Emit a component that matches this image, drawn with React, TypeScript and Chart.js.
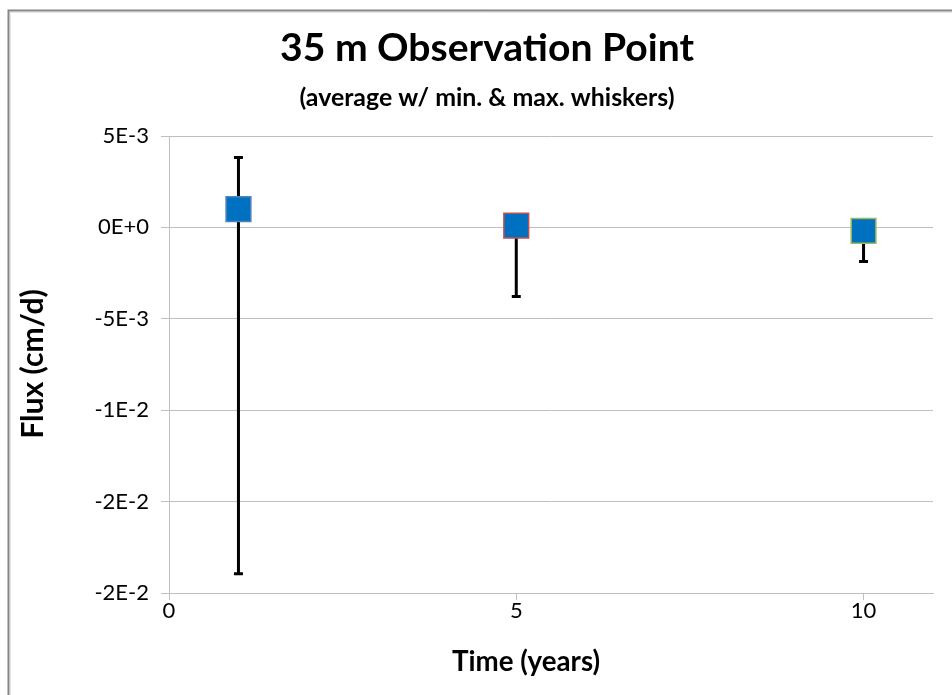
import React, { useEffect, useRef } from 'react';
import { Chart, registerables } from 'chart.js';

Chart.register(...registerables);

const chartTitle = '35 m Observation Point';
const chartSubtitle = '(average w/ min. & max. whiskers)';
const xAxisTitle = 'Time (years)';
const yAxisTitle = 'Flux (cm/d)';

const years = [1, 5, 10];
const averageFlux = [0.001, 0.0001, -0.00019];
const minFlux = [-0.01895, -0.00378, -0.00186];
const maxFlux = [0.00383, 0.0003, -0.0001];
const markerBorders = ['#4F81BD', '#C0504D', '#9BBB59'];

const xTickValues = [0, 5, 10];
const xTickLabels = ['0', '5', '10'];
const yTickValues = [-0.02, -0.015, -0.01, -0.005, 0, 0.005];
const yTickLabels = ['-2E-2', '-2E-2', '-1E-2', '-5E-3', '0E+0', '5E-3'];

const FONT = 'Lato, "Open Sans", sans-serif';
const W = 952;
const H = 695;

function fitFont(ctx: CanvasRenderingContext2D, text: string, weight: string, targetWidth: number) {
  ctx.font = `${weight} 100px ${FONT}`;
  const w = ctx.measureText(text).width;
  const size = (100 * targetWidth) / w;
  return `${weight} ${size.toFixed(1)}px ${FONT}`;
}

const decorPlugin = {
  id: 'decor',
  beforeDraw(chart: any) {
    const ctx = chart.ctx as CanvasRenderingContext2D;
    ctx.save();
    ctx.fillStyle = '#ffffff';
    ctx.fillRect(0, 0, chart.width, chart.height);
    ctx.restore();
  },
  beforeDatasetsDraw(chart: any) {
    const ctx = chart.ctx as CanvasRenderingContext2D;
    const xs = chart.scales.x;
    const ys = chart.scales.y;
    ctx.save();
    ctx.strokeStyle = '#000000';
    ctx.lineWidth = 3;
    ctx.lineCap = 'butt';
    years.forEach((t, i) => {
      const px = xs.getPixelForValue(t);
      const top = ys.getPixelForValue(maxFlux[i]);
      const bot = ys.getPixelForValue(minFlux[i]);
      ctx.beginPath();
      ctx.moveTo(px, top);
      ctx.lineTo(px, bot);
      ctx.moveTo(px - 4.5, top);
      ctx.lineTo(px + 4.5, top);
      ctx.moveTo(px - 4.5, bot);
      ctx.lineTo(px + 4.5, bot);
      ctx.stroke();
    });
    ctx.restore();
  },
  afterDraw(chart: any) {
    const ctx = chart.ctx as CanvasRenderingContext2D;
    ctx.save();
    // outer frame of the chart object
    ctx.strokeStyle = '#e4e4e4';
    ctx.lineWidth = 1;
    ctx.beginPath();
    ctx.moveTo(10.5, H);
    ctx.lineTo(10.5, 12.5);
    ctx.lineTo(W, 12.5);
    ctx.stroke();
    ctx.strokeStyle = '#868686';
    ctx.lineWidth = 2;
    ctx.beginPath();
    ctx.moveTo(8.5, H);
    ctx.lineTo(8.5, 10.5);
    ctx.lineTo(W, 10.5);
    ctx.stroke();

    ctx.fillStyle = '#000000';
    ctx.textAlign = 'center';
    ctx.textBaseline = 'middle';
    ctx.font = fitFont(ctx, chartTitle, 'bold', 414);
    ctx.fillText(chartTitle, 487, 48);
    ctx.font = fitFont(ctx, chartSubtitle, 'bold', 375);
    ctx.fillText(chartSubtitle, 487, 98);
    ctx.font = fitFont(ctx, xAxisTitle, 'bold', 148);
    ctx.fillText(xAxisTitle, 526, 662);

    ctx.translate(33, 364);
    ctx.rotate(-Math.PI / 2);
    ctx.font = fitFont(ctx, yAxisTitle, 'bold', 150);
    ctx.fillText(yAxisTitle, 0, 0);
    ctx.restore();
  },
};

export default function App() {
  const canvasRef = useRef<HTMLCanvasElement | null>(null);

  useEffect(() => {
    const canvas = canvasRef.current;
    if (!canvas) return;
    const chart = new Chart(canvas, {
      type: 'scatter',
      data: {
        datasets: [
          {
            label: 'Average flux',
            data: years.map((t, i) => ({ x: t, y: averageFlux[i] })),
            pointStyle: 'rect',
            pointRadius: 17.5,
            pointHoverRadius: 17.5,
            pointBackgroundColor: '#0070C0',
            pointBorderColor: markerBorders,
            pointBorderWidth: 1.5,
            showLine: false,
          } as any,
        ],
      },
      options: {
        animation: false,
        responsive: false,
        devicePixelRatio: 1,
        events: [],
        layout: { padding: { top: 136, right: 14, left: 0, bottom: 0 } },
        plugins: {
          legend: { display: false },
          tooltip: { enabled: false },
          title: { display: false },
        },
        scales: {
          x: {
            type: 'linear',
            min: 0,
            max: 11,
            afterBuildTicks: (s: any) => {
              s.ticks = xTickValues.map((v) => ({ value: v }));
            },
            afterFit: (s: any) => {
              s.height = 102;
            },
            grid: { drawOnChartArea: false, drawTicks: true, tickLength: 7, color: '#bfbfbf' },
            border: { color: '#bfbfbf', width: 1 },
            ticks: {
              font: { family: FONT, size: 22 },
              color: '#000000',
              padding: -2,
              maxRotation: 0,
              autoSkip: false,
              callback: (v: any) => {
                const k = xTickValues.indexOf(Number(v));
                return k >= 0 ? xTickLabels[k] : '';
              },
            },
          },
          y: {
            type: 'linear',
            min: -0.02,
            max: 0.005,
            afterBuildTicks: (s: any) => {
              s.ticks = yTickValues.map((v) => ({ value: v }));
            },
            afterFit: (s: any) => {
              s.width = 169;
            },
            grid: { drawOnChartArea: true, drawTicks: true, tickLength: 8, color: '#bfbfbf' },
            border: { color: '#bfbfbf', width: 1 },
            ticks: {
              font: { family: FONT, size: 22 },
              color: '#000000',
              padding: 12,
              autoSkip: false,
              callback: (v: any) => {
                const k = yTickValues.indexOf(Number(v));
                return k >= 0 ? yTickLabels[k] : '';
              },
            },
          },
        },
      } as any,
      plugins: [decorPlugin],
    });
    return () => chart.destroy();
  }, []);

  return (
    <div style={{ position: 'absolute', left: 0, top: 0, width: W, height: H }}>
      <canvas ref={canvasRef} width={W} height={H} style={{ display: 'block' }} />
    </div>
  );
}
